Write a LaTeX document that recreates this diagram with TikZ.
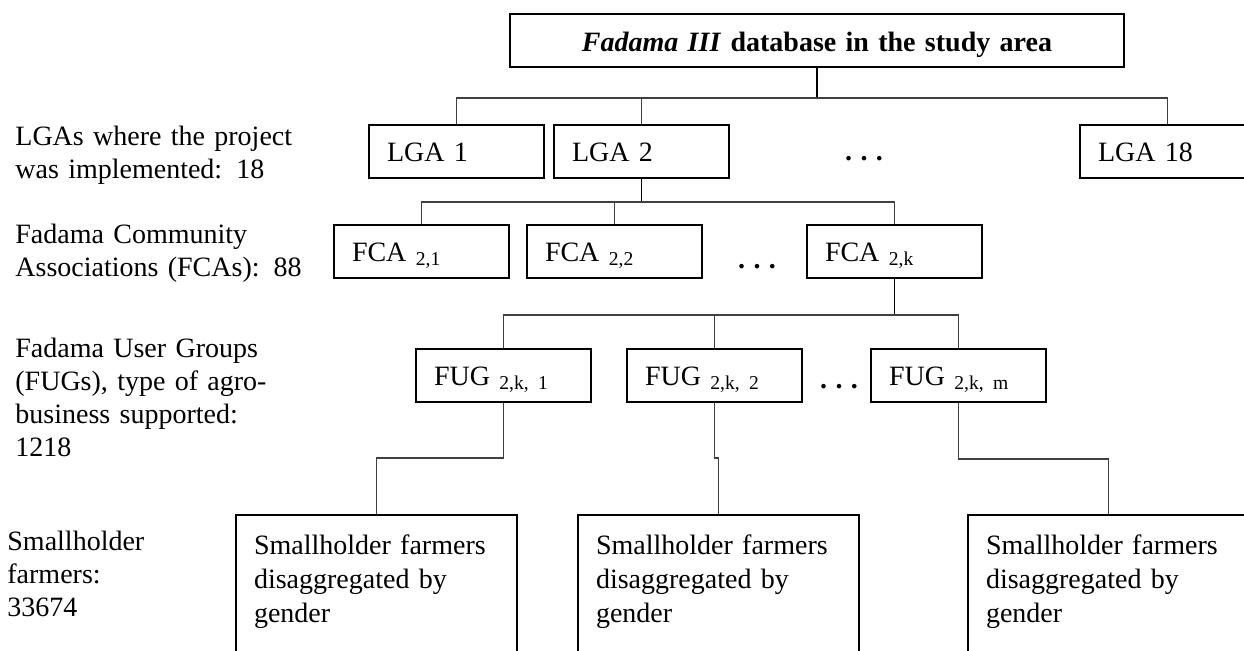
\documentclass[tikz,border=0pt]{standalone}
\usepackage{fontspec}
\setmainfont{Liberation Serif}
\tikzset{
  box/.style={draw, line width=1pt, anchor=north west, inner xsep=9pt, inner ysep=0pt,
    text width=69.5pt, align=left, text height=18pt, text depth=8.5pt,
    font=\fontsize{14pt}{17pt}\selectfont},
  farmbox/.style={box, text width=122.5pt, text height=19.5pt, text depth=90pt},
  levelnote/.style={anchor=base west, text width=160pt, align=left, inner sep=0pt,
    font=\fontsize{14pt}{16.5pt}\selectfont},
  link/.style={draw=black!75, line width=0.6pt},
  stemline/.style={line width=0.9pt},
  ellip/.style={anchor=base, inner sep=0pt, font=\fontsize{14pt}{17pt}\selectfont\bfseries}
}
\newcommand{\threedots}{.\hspace{0.3em}.\hspace{0.3em}.}

\begin{document}
\begin{tikzpicture}[x=0.5pt, y=-0.5pt]
    \useasboundingbox (0,0) rectangle (1244,650);
    \clip (0,0) rectangle (1244,650);

    \node[box, text width=289pt, align=center, text height=18.5pt, text depth=8pt] (top) at (509,13)
        {\textbf{\textit{Fadama III} database in the study area}};

    \node[box] (lga1) at (368,124) {LGA 1};
    \node[box] (lga2) at (553,124) {LGA 2};
    \node[box] (lga18) at (1079,124) {LGA 18};
    \node[ellip] (lgadots) at (864,160) {\threedots};

    \node[box] (fca1) at (333,224) {FCA \textsubscript{2,1}};
    \node[box] (fca2) at (526,224) {FCA \textsubscript{2,2}};
    \node[box] (fcak) at (806,224) {FCA \textsubscript{2,k}};
    \node[ellip] (fcadots) at (757,268) {\threedots};

    \node[box] (fug1) at (415,348) {FUG \textsubscript{2,k, 1}};
    \node[box] (fug2) at (626,348) {FUG \textsubscript{2,k, 2}};
    \node[box] (fugm) at (870,348) {FUG \textsubscript{2,k, m}};
    \node[ellip] (fugdots) at (839,388) {\threedots};

    \node[farmbox] (farm1) at (235,514) {Smallholder farmers\\disaggregated by\\gender};
    \node[farmbox] (farm2) at (577,514) {Smallholder farmers\\disaggregated by\\gender};
    \node[farmbox] (farm3) at (967,514) {Smallholder farmers\\disaggregated by\\gender};

    \node[levelnote] (notelga) at (15,145) {LGAs where the project\\was implemented: 18};
    \node[levelnote] (notefca) at (15,243) {Fadama Community\\Associations (FCAs): 88};
    \node[levelnote] (notefug) at (15,357) {Fadama User Groups\\(FUGs), type of agro-\\business supported:\\1218};
    \node[levelnote] (notefarm) at (7,550) {Smallholder\\farmers:\\33674};

    \draw[stemline] (top.south) -- ++(0,30) coordinate (bar0);
    \draw[link] (bar0) -| (lga1.north);
    \draw[link] (bar0) -| (lga2.north);
    \draw[link] (bar0) -| (lga18.north);

    \draw[stemline] (lga2.south) -- ++(0,23) coordinate (bar1);
    \draw[link] (bar1) -| (fca1.north);
    \draw[link] (bar1) -| (fca2.north);
    \draw[link] (bar1) -| (fcak.north);

    \draw[stemline] (fcak.south) -- ++(0,36) coordinate (bar2);
    \draw[link] (bar2) -| (fug1.north);
    \draw[link] (bar2) -| (fug2.north);
    \draw[link] (bar2) -| (fugm.north);

    \draw[link] (fug1.south) -- ++(0,55) -| (farm1.north);
    \draw[link] (fug2.south) -- ++(0,55) -| (farm2.north);
    \draw[link] (fugm.south) -- ++(0,56) -| (farm3.north);
\end{tikzpicture}
\end{document}
